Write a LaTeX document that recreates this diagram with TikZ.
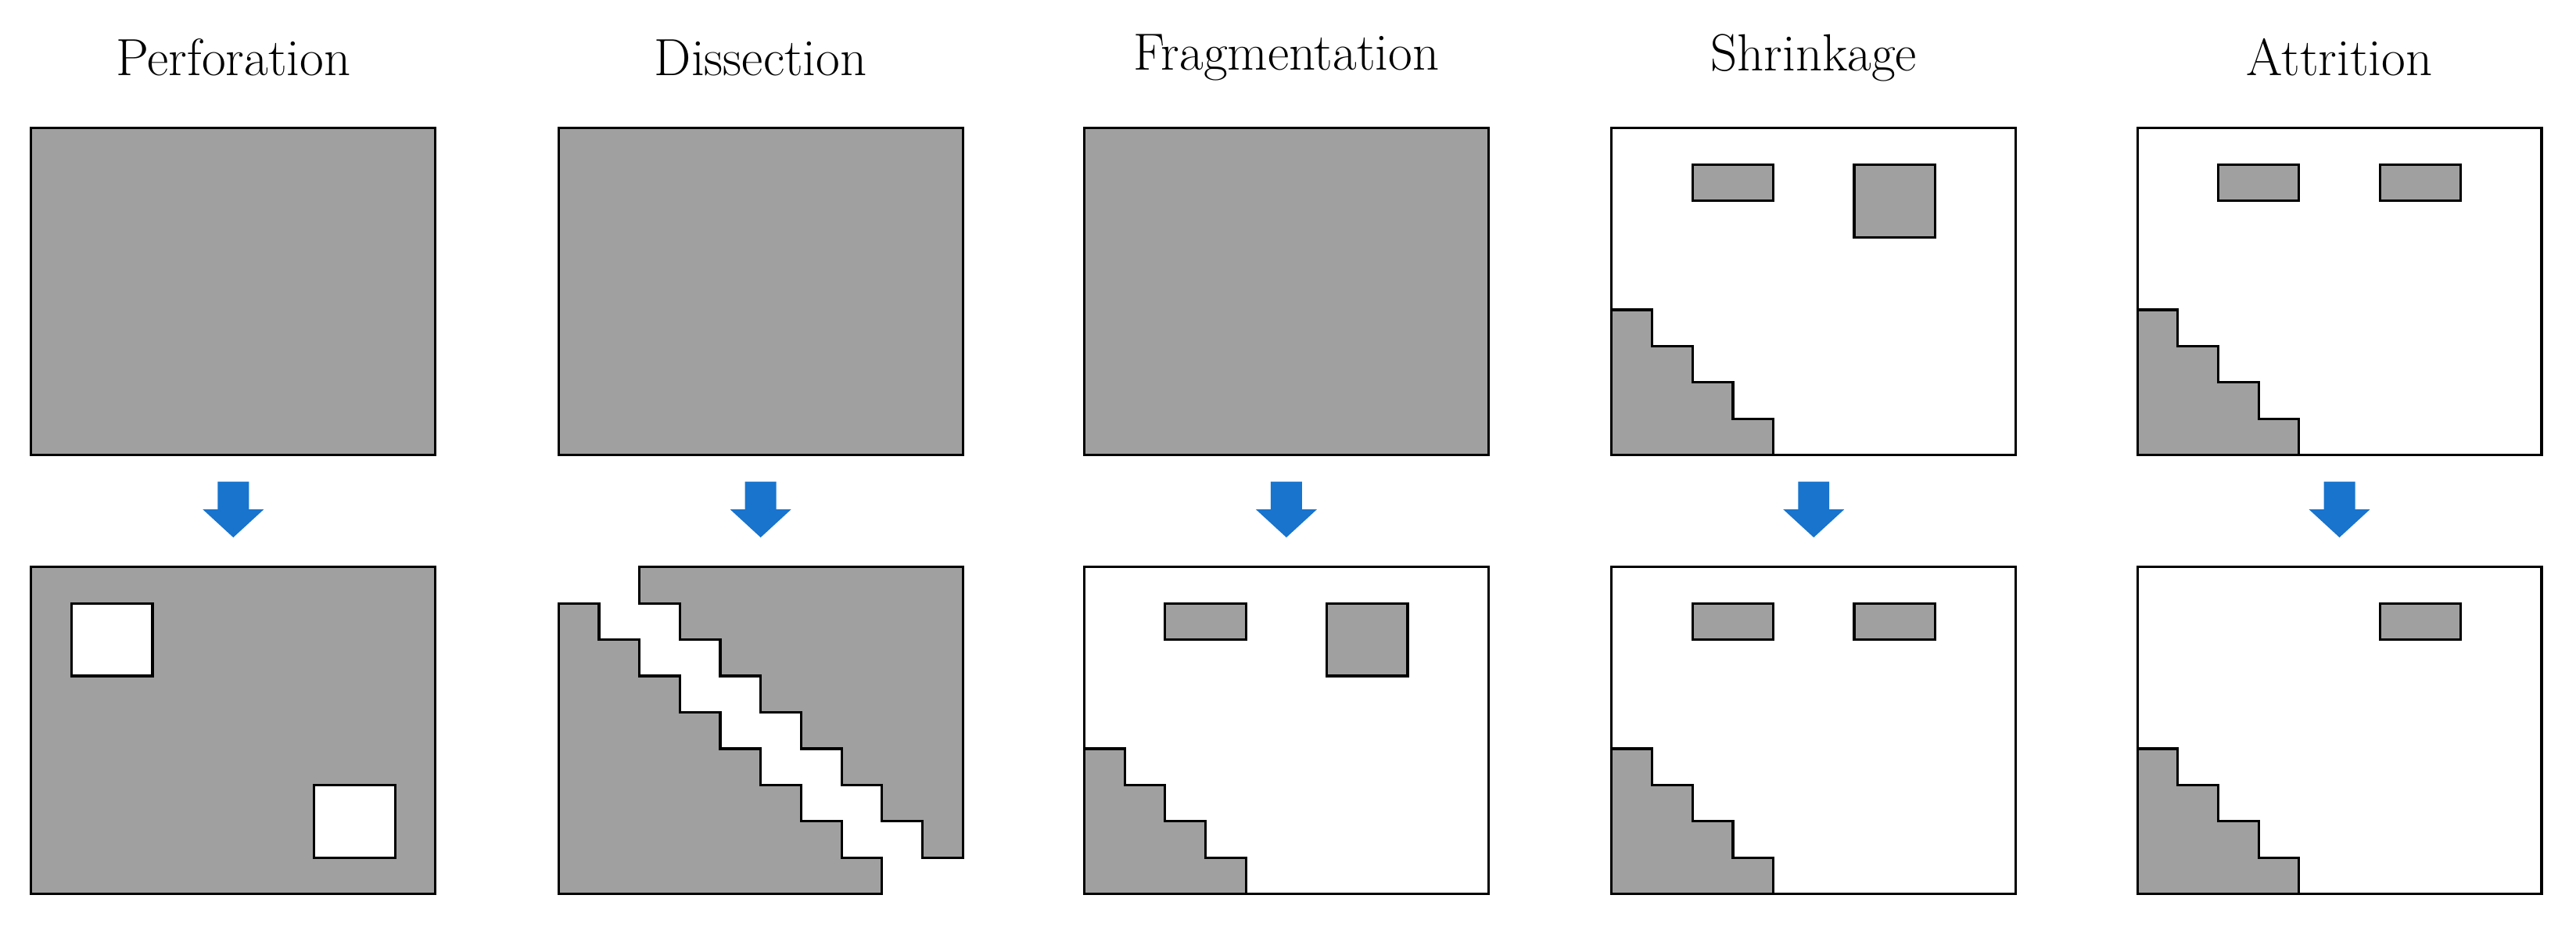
\documentclass[tikz,border=0pt]{standalone}
\usepackage{tikz}
\definecolor{tile}{HTML}{A0A0A0}
\definecolor{flow}{HTML}{1874CD}
\tikzset{
  frame/.style={draw=black, line width=0.9pt},
  piece/.style={fill=tile, draw=black, line width=0.9pt},
  hole/.style={fill=white, draw=black, line width=0.9pt},
  caption/.style={font=\fontsize{19}{22}\selectfont, anchor=center},
  downstep/.style={fill=flow, draw=none}
}
% one panel on a 10x9 grid, top left corner at #1
\newcommand{\grid}[2]{%
  \begin{scope}[shift={#1}, x=0.5166cm, y=-0.4641cm]
    #2
  \end{scope}}
\newcommand{\stairs}{\path[piece] (0,5) -- (1,5) -- (1,6) -- (2,6) -- (2,7) -- (3,7) -- (3,8) -- (4,8) -- (4,9) -- (0,9) -- cycle;}
\newcommand{\flowarrow}[1]{\path[downstep] (#1-9.5,293) -- (#1+9.5,293) -- (#1+9.5,310) -- (#1+18.5,310)
    -- (#1,327) -- (#1-18.5,310) -- (#1-9.5,310) -- cycle;}
\begin{document}
\begin{tikzpicture}[x=0.021cm, y=-0.021cm]
  \useasboundingbox (0,0) rectangle (1568,566);

  \node[caption] (perf)  at (142,35)  {Perforation};
  \node[caption] (diss)  at (463,35)  {Dissection};
  \node[caption] (frag)  at (783,35)  {Fragmentation};
  \node[caption] (shrk)  at (1104,35) {Shrinkage};
  \node[caption] (attr)  at (1424,35) {Attrition};

  % perforation
  \grid{(19,78)}{\path[piece] (0,0) rectangle (10,9);}
  \grid{(19,345)}{\path[piece] (0,0) rectangle (10,9);
    \path[hole] (1,1) rectangle (3,3);
    \path[hole] (7,6) rectangle (9,8);}

  % dissection
  \grid{(340,78)}{\path[piece] (0,0) rectangle (10,9);}
  \grid{(340,345)}{%
    \path[piece] (0,1) -- (1,1) -- (1,2) -- (2,2) -- (2,3) -- (3,3) -- (3,4) -- (4,4) -- (4,5)
      -- (5,5) -- (5,6) -- (6,6) -- (6,7) -- (7,7) -- (7,8) -- (8,8) -- (8,9) -- (0,9) -- cycle;
    \path[piece] (2,0) -- (10,0) -- (10,8) -- (9,8) -- (9,7) -- (8,7) -- (8,6) -- (7,6) -- (7,5)
      -- (6,5) -- (6,4) -- (5,4) -- (5,3) -- (4,3) -- (4,2) -- (3,2) -- (3,1) -- (2,1) -- cycle;}

  % fragmentation
  \grid{(660,78)}{\path[piece] (0,0) rectangle (10,9);}
  \grid{(660,345)}{\path[frame] (0,0) rectangle (10,9);
    \path[piece] (2,1) rectangle (4,2);
    \path[piece] (6,1) rectangle (8,3);
    \stairs}

  % shrinkage
  \grid{(981,78)}{\path[frame] (0,0) rectangle (10,9);
    \path[piece] (2,1) rectangle (4,2);
    \path[piece] (6,1) rectangle (8,3);
    \stairs}
  \grid{(981,345)}{\path[frame] (0,0) rectangle (10,9);
    \path[piece] (2,1) rectangle (4,2);
    \path[piece] (6,1) rectangle (8,2);
    \stairs}

  % attrition
  \grid{(1301,78)}{\path[frame] (0,0) rectangle (10,9);
    \path[piece] (2,1) rectangle (4,2);
    \path[piece] (6,1) rectangle (8,2);
    \stairs}
  \grid{(1301,345)}{\path[frame] (0,0) rectangle (10,9);
    \path[piece] (6,1) rectangle (8,2);
    \stairs}

  \foreach \cx in {142,463,783,1104,1424} {\flowarrow{\cx}}
\end{tikzpicture}
\end{document}
